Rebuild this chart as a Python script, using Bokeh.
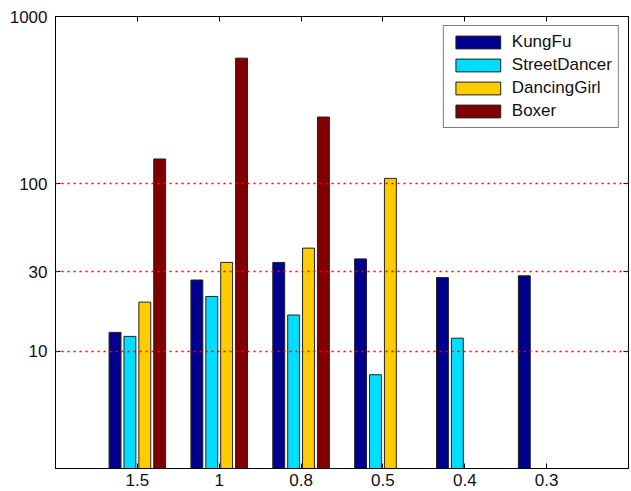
import numpy as np
from bokeh.plotting import figure
from bokeh.models import (Range1d, FixedTicker, LinearAxis, LogAxis, Legend,
                          LegendItem, ColumnDataSource)
from bokeh.embed import file_html
from bokeh.resources import INLINE

# ---- data ----
categories = ["1.5", "1", "0.8", "0.5", "0.4", "0.3"]
series_names = ["KungFu", "StreetDancer", "DancingGirl", "Boxer"]
kungfu = [13.0, 26.7, 34.0, 35.7, 27.6, 28.3]
street_dancer = [12.3, 21.3, 16.5, 7.26, 12.0, np.nan]
dancing_girl = [19.7, 34.0, 41.4, 108.0, np.nan, np.nan]
boxer = [141.0, 564.0, 251.0, np.nan, np.nan, np.nan]
y_ticks = [10, 30, 100, 1000]
grid_levels = [10, 30, 100]
y_min, y_max = 2, 1000

series_values = [kungfu, street_dancer, dancing_girl, boxer]
colors = ["#00008F", "#00DDFF", "#FFCC00", "#800000"]

FONT = "Liberation Sans"
FS = "17px"

n_cat = len(categories)
n_ser = len(series_names)
group_w = n_ser / (n_ser + 1.5)
slot = group_w / n_ser
bar_w = 0.8 * slot

p = figure(width=630, height=490, y_axis_type="log",
           x_range=Range1d(0, n_cat + 1), y_range=Range1d(y_min, y_max),
           output_backend="svg", toolbar_location=None,
           min_border_left=55, min_border_right=2, min_border_top=16,
           min_border_bottom=22)

items = []
for k, (name, vals, col) in enumerate(zip(series_names, series_values, colors)):
    off = (k - (n_ser - 1) / 2) * slot
    xs, tops = [], []
    for i, v in enumerate(vals):
        if not np.isnan(v):
            xs.append(i + 1 + off)
            tops.append(v)
    src = ColumnDataSource(dict(x=xs, top=tops))
    r = p.vbar(x="x", top="top", bottom=y_min, width=bar_w, source=src,
               fill_color=col, line_color="#222222", line_width=1)
    items.append(LegendItem(label=name, renderers=[r]))

# grid
p.xgrid.visible = False
p.ygrid.ticker = FixedTicker(ticks=grid_levels)
p.ygrid.grid_line_color = "#FF0000"
p.ygrid.grid_line_dash = "2 4"
p.ygrid.grid_line_width = 1.5
p.ygrid.level = "overlay"

p.outline_line_color = "black"

# axes
xt = FixedTicker(ticks=list(range(1, n_cat + 1)))
p.xaxis.ticker = xt
p.xaxis.major_label_overrides = {i + 1: c for i, c in enumerate(categories)}
p.yaxis.ticker = FixedTicker(ticks=y_ticks)
for ax in [p.xaxis[0], p.yaxis[0]]:
    ax.major_tick_in = 5
    ax.major_tick_out = 0
    ax.minor_tick_line_color = None
    ax.axis_line_color = "black"
    ax.major_tick_line_color = "black"
    ax.major_label_text_font = FONT
    ax.major_label_text_font_size = FS
    ax.major_label_text_color = "#111111"
p.xaxis.major_label_standoff = 5
p.yaxis.major_label_standoff = 8

top_ax = LinearAxis(ticker=xt, major_tick_in=5, major_tick_out=0,
                    minor_tick_line_color=None,
                    major_label_overrides={i + 1: "" for i in range(n_cat)},
                    major_label_standoff=0, axis_line_color="black")
p.add_layout(top_ax, "above")
right_ax = LogAxis(ticker=FixedTicker(ticks=y_ticks), major_tick_in=5,
                   major_tick_out=0, minor_tick_line_color=None,
                   major_label_overrides={t: "" for t in y_ticks},
                   major_label_standoff=0, axis_line_color="black")
p.add_layout(right_ax, "right")

legend = Legend(items=items, location="top_right", border_line_color="black",
                border_line_width=1, glyph_width=56, glyph_height=16,
                label_text_font=FONT, label_text_font_size=FS,
                label_text_color="#111111", spacing=3, padding=6, margin=9,
                label_standoff=6, background_fill_alpha=1.0)
p.add_layout(legend)

open("out.html", "w").write(file_html(p, INLINE))
